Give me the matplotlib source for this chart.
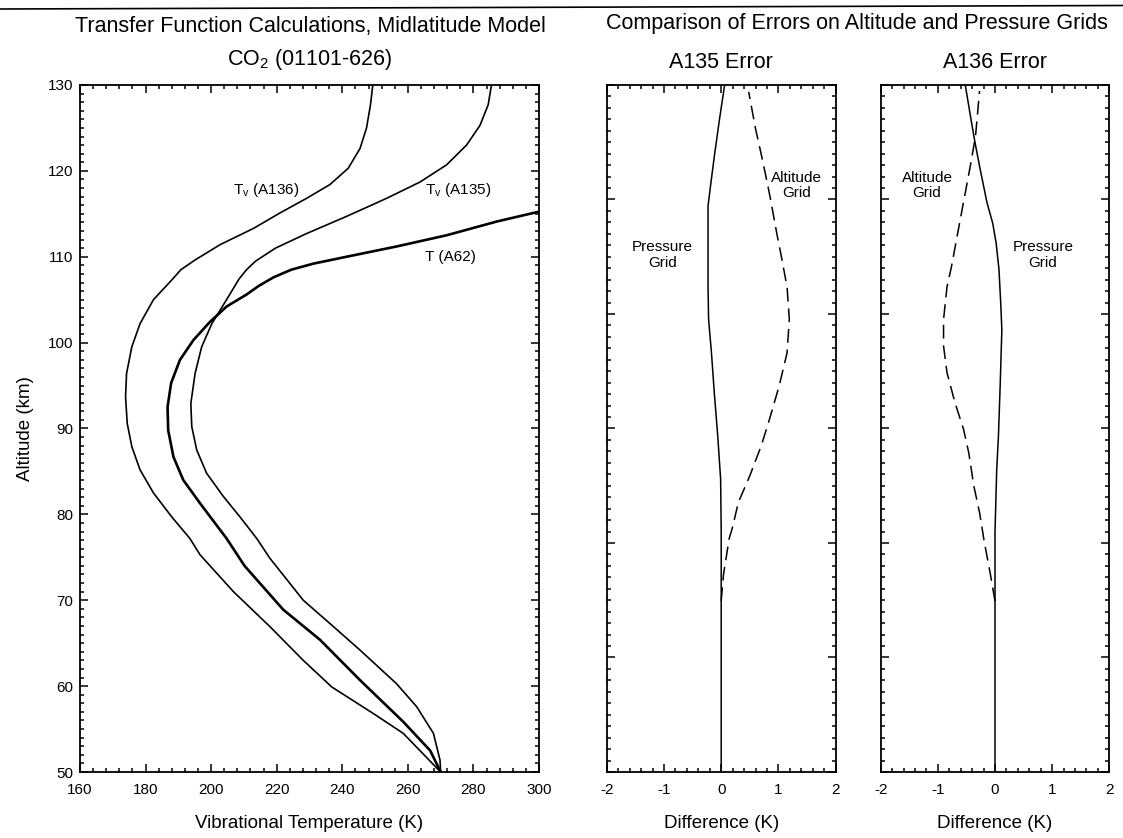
import matplotlib
matplotlib.use("Agg")
import matplotlib.pyplot as plt
import numpy as np
from matplotlib.ticker import MultipleLocator, FixedLocator, NullFormatter
from matplotlib.lines import Line2D

plt.rcParams['font.family'] = ['Liberation Sans', 'DejaVu Sans']
plt.rcParams['axes.unicode_minus'] = False
plt.rcParams['mathtext.default'] = 'regular'

# --- left panel: vibrational temperature profiles (K) vs altitude (km) ---
alt_a136 = [50, 54.5, 56.8, 59.9, 63.0, 66.9, 71.0, 75.3, 77.2, 79.7, 82.5, 85.2, 87.9,
            90.6, 93.7, 96.4, 99.5, 102.2, 105.0, 107.3, 108.5, 109.6, 111.4, 113.3,
            115.1, 116.8, 118.4, 120.3, 122.6, 125.0, 127.7, 130]
tv_a136 = [270, 258.6, 249.5, 236.8, 228.1, 218.0, 206.8, 196.6, 193.5, 188.0, 182.4,
           178.3, 175.8, 174.4, 173.9, 174.2, 175.8, 178.3, 182.4, 188.0, 190.8, 195.0,
           202.7, 212.9, 221.0, 229.1, 236.2, 241.8, 245.4, 247.4, 248.6, 249.3]

alt_a135 = [50, 51.4, 54.5, 57.6, 60.3, 64.2, 67.3, 70, 74.9, 77.2, 79.7, 82.1, 84.8,
            87.5, 90.2, 92.9, 96.4, 99.5, 102.2, 105.0, 107.4, 108.5, 109.5, 111.0,
            112.7, 114.7, 116.8, 118.7, 120.7, 123.0, 125.3, 127.7, 130]
tv_a135 = [270, 269.8, 267.8, 262.7, 256.5, 245.4, 236.2, 228.1, 217.9, 213.9, 208.8,
           203.7, 198.6, 195.6, 194.1, 193.8, 195.1, 197.1, 200.2, 204.7, 208.5, 210.8,
           213.6, 219.6, 229.1, 241.3, 253.5, 263.7, 271.8, 277.9, 282.0, 284.5, 285.5]

alt_a62 = [50, 52.5, 55.85, 60.7, 65.4, 68.9, 74.0, 77.2, 81.3, 84.0, 86.7, 89.8, 92.5,
           95.3, 98.0, 100.3, 102.4, 104.2, 105.6, 106.6, 107.6, 108.5, 109.2, 110.0,
           111.2, 112.5, 114.1, 115.25]
t_a62 = [270, 266.8, 258.6, 245.4, 233.2, 222, 210.2, 204.7, 196.6, 191.5, 188.5,
         186.9, 186.7, 187.8, 190.5, 194.6, 199.6, 204.7, 210.8, 214.5, 219.0, 224.5,
         231.2, 241.3, 256.6, 271.8, 287.1, 300]

# --- A135 error (K) ---
alt_p135 = [50, 78, 84.1, 89.1, 94.1, 98.8, 102.7, 106.5, 110.4, 115.9, 118.6, 121.7,
            126.0, 130]
err_p135 = [0, 0, -0.01, -0.06, -0.12, -0.17, -0.22, -0.23, -0.23, -0.23, -0.18,
            -0.12, -0.03, 0.06]
alt_z135 = [69.9, 73.0, 77.2, 78.3, 81.4, 84.5, 88.0, 91.0, 94.9, 98.8, 102.7, 106.5,
            110.4, 112.4, 117.1, 121.0, 124.9, 129.2]
err_z135 = [0, 0.04, 0.14, 0.19, 0.30, 0.50, 0.70, 0.84, 1.01, 1.15, 1.19, 1.15, 1.04,
            0.98, 0.85, 0.73, 0.60, 0.48]

# --- A136 error (K) ---
alt_p136 = [50, 77.9, 85.2, 89.1, 94.9, 101.5, 104.6, 108.5, 111.6, 113.9, 116.3,
            120.2, 123.3, 126.0, 130]
err_p136 = [0, 0, 0.03, 0.06, 0.09, 0.12, 0.10, 0.07, 0.02, -0.04, -0.14, -0.26,
            -0.35, -0.42, -0.52]
alt_z136 = [69.9, 73.0, 76.9, 80.2, 83.3, 87.2, 89.9, 93.0, 96.5, 99.6, 102.7, 106.5,
            108.9, 113.2, 117.8, 121.0, 124.1, 129.3]
err_z136 = [0, -0.08, -0.19, -0.27, -0.37, -0.46, -0.55, -0.70, -0.84, -0.90, -0.90,
            -0.84, -0.76, -0.64, -0.51, -0.42, -0.34, -0.27]

W, H = 1123, 838
fig = plt.figure(figsize=(W / 100, H / 100), dpi=100)

def px_axes(x0, x1, y0, y1):
    return fig.add_axes([x0 / W, 1 - y1 / H, (x1 - x0) / W, (y1 - y0) / H])

ax1 = px_axes(80, 539, 85, 772)
ax2 = px_axes(606.7, 835.7, 85, 772)
ax3 = px_axes(880.7, 1109.3, 85, 772)

for ax in (ax1, ax2, ax3):
    for s in ax.spines.values():
        s.set_linewidth(1.3)
    ax.tick_params(which='both', direction='in', top=True, right=True,
                   labelsize=11, width=1.1)
    ax.tick_params(which='major', length=6)
    ax.tick_params(which='minor', length=3)
    ax.tick_params(axis='x', pad=8)
    ax.tick_params(axis='y', pad=5)

# left panel
ax1.plot(tv_a136, alt_a136, color='black', lw=1.2)
ax1.plot(tv_a135, alt_a135, color='black', lw=1.2)
ax1.plot(t_a62, alt_a62, color='black', lw=1.9)
ax1.set_xlim(160, 300)
ax1.set_ylim(50, 130)
ax1.xaxis.set_major_locator(MultipleLocator(20))
ax1.xaxis.set_minor_locator(MultipleLocator(4))
ax1.yaxis.set_major_locator(MultipleLocator(10))
ax1.yaxis.set_minor_locator(MultipleLocator(1))
ax1.set_xlabel('Vibrational Temperature (K)', fontsize=13.5, labelpad=13)
ax1.set_ylabel('Altitude (km)', fontsize=13.5, labelpad=10)
ax1.text(216.8, 117.8, 'T$_\\mathregular{v}$ (A136)', fontsize=11, ha='center', va='center')
ax1.text(275.2, 117.8, 'T$_\\mathregular{v}$ (A135)', fontsize=11, ha='center', va='center')
ax1.text(272.9, 110.0, 'T (A62)', fontsize=11, ha='center', va='center')

# error panels
dash = (0, (9, 4.5))
for ax, pa, pe, za, ze in ((ax2, alt_p135, err_p135, alt_z135, err_z135),
                           (ax3, alt_p136, err_p136, alt_z136, err_z136)):
    ax.plot(pe, pa, color='black', lw=1.1)
    ax.plot(ze, za, color='black', lw=1.1, linestyle=dash)
    ax.set_xlim(-2, 2)
    ax.set_ylim(50, 130)
    ax.xaxis.set_major_locator(MultipleLocator(1))
    ax.xaxis.set_minor_locator(MultipleLocator(0.2))
    ax.yaxis.set_major_locator(FixedLocator(np.linspace(50, 130, 7)))
    ax.yaxis.set_minor_locator(FixedLocator(np.linspace(50, 130, 61)))
    ax.yaxis.set_major_formatter(NullFormatter())
    ax.set_xlabel('Difference (K)', fontsize=13.5, labelpad=13)

ax2.text(-1.03, 110.2, 'Pressure\nGrid', fontsize=11, ha='center', va='center', linespacing=1.1)
ax2.text(1.32, 118.3, 'Altitude\nGrid', fontsize=11, ha='center', va='center', linespacing=1.1)
ax3.text(-1.19, 118.3, 'Altitude\nGrid', fontsize=11, ha='center', va='center', linespacing=1.1)
ax3.text(0.84, 110.2, 'Pressure\nGrid', fontsize=11, ha='center', va='center', linespacing=1.1)

# titles
fig.text(310 / W, 1 - 26.8 / H, 'Transfer Function Calculations, Midlatitude Model',
         fontsize=15.5, ha='center', va='center')
fig.text(310 / W, 1 - 59 / H, 'CO$_\\mathregular{2}$ (01101-626)',
         fontsize=15.5, ha='center', va='center')
fig.text(856.5 / W, 1 - 23 / H, 'Comparison of Errors on Altitude and Pressure Grids',
         fontsize=15.5, ha='center', va='center')
fig.text(721.2 / W, 1 - 62.5 / H, 'A135 Error', fontsize=15.5, ha='center', va='center')
fig.text(995 / W, 1 - 62.5 / H, 'A136 Error', fontsize=15.5, ha='center', va='center')

# rule across the top of the page
fig.add_artist(Line2D([0, 1], [1 - 9 / H, 1 - 5.5 / H], color='black', lw=1.2,
                      transform=fig.transFigure))

fig.savefig('out.png', dpi=100)
